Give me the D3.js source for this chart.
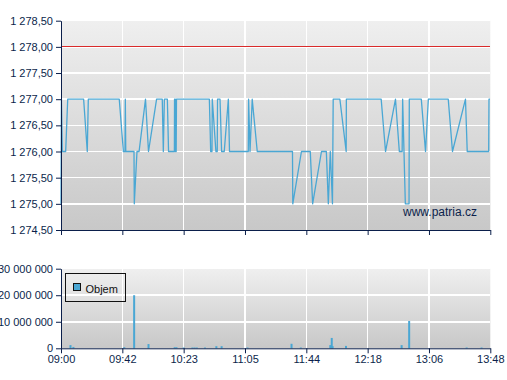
<!DOCTYPE html>
<html>
<head>
<meta charset="utf-8">
<style>
  body { margin: 0; background: #fff; font-family: Arial, "Liberation Sans", sans-serif; }
  svg { display: block; }
  .axis text { font-size: 11px; fill: #0b1f4b; font-family: Arial, "Liberation Sans", sans-serif; }
  .axis path, .axis line { stroke: #0b1f4b; }
  .grid line { stroke: #fff; stroke-width: 1.5; shape-rendering: crispEdges; }
</style>
<title>Patria</title>
</head>
<body>
<script src="https://cdn.jsdelivr.net/npm/d3@7"></script>
<script>

// tick labels on the time axis (ticks sit evenly spaced)
var tickLabels = ["09:00", "09:42", "10:23", "11:05", "11:44", "12:18", "13:06", "13:48"];
var priceTicks = [1274.5, 1275, 1275.5, 1276, 1276.5, 1277, 1277.5, 1278, 1278.5];
var volumeTicks = [0, 10000000, 20000000, 30000000];
var limitPrice = 1278;

// price series
var priceTimes = ["09:00:00","09:00:18","09:00:54","09:03:12","09:04:36","09:15:30","09:18:00","09:18:42",
  "09:39:54","09:42:42","09:43:48","09:44:00","09:44:18","09:49:48","09:50:00","09:51:48","09:53:12",
  "09:57:30","09:59:30","10:04:54","10:08:42","10:09:24","10:10:06","10:12:06","10:12:54","10:16:48",
  "10:16:54","10:17:24","10:17:36","10:18:00","10:18:12","10:40:36","10:41:30","10:42:24","10:42:36",
  "10:45:06","10:46:00","10:46:12","10:47:54","10:49:00","10:50:48","10:53:36","10:54:24","11:07:06",
  "11:07:18","11:08:12","11:09:36","11:12:48","11:35:12","11:35:24","11:40:54","11:46:12","11:47:30",
  "11:52:24","11:55:06","11:56:12","11:57:18","11:58:30","11:58:54","12:02:36","12:06:06","12:06:12",
  "12:28:36","12:32:00","12:39:48","12:42:48","12:45:00","12:45:24","12:47:30","12:50:24","12:50:36",
  "13:00:00","13:03:18","13:05:30","13:19:12","13:22:06","13:31:00","13:32:12","13:46:54","13:47:06",
  "13:47:48"];
var priceValues = [1275,1277,1276,1276,1277,1277,1276,1277,
  1277,1276,1276,1277,1276,1276,1275,1276,1276,
  1277,1276,1277,1277,1276,1277,1277,1276,1276,
  1277,1277,1276,1276,1277,1277,1276,1276,1277,
  1276,1276,1277,1277,1276,1276,1277,1276,1276,
  1277,1276,1277,1276,1276,1275,1276,1276,1275,
  1276,1276,1275,1276,1275,1277,1277,1276,1277,
  1277,1276,1277,1276,1276,1277,1275,1275,1277,
  1277,1276,1277,1277,1276,1277,1276,1276,1277,
  1277];

// volume series
var volumeTimes = ["09:06:30","09:08:30","09:43:18","09:49:54","09:59:30","10:17:00","10:18:12","10:23:00",
  "10:29:00","10:30:30","10:32:00","10:37:36","10:45:24","10:49:00","11:06:36","11:34:36","11:40:30",
  "11:57:18","11:58:06","11:58:36","12:06:00","12:44:36","12:50:30","13:31:48","13:42:00"];
var volumeValues = [1200000,500000,400000,20000000,1600000,400000,400000,300000,
  300000,300000,300000,300000,800000,800000,300000,1700000,300000,
  1200000,3900000,800000,900000,1200000,10300000,300000,300000];

function toMin(s) {
	var p = s.split(":").map(Number);
	return p[0] * 60 + p[1] + (p[2] || 0) / 60;
}

var W = 507, H = 380;
var left = 61, right = 490.3;
var top1 = 20.7, bot1 = 230;
var top2 = 268.7, bot2 = 348.3;

var cz = d3.formatLocale({decimal: ",", thousands: " ", grouping: [3], currency: ["", ""]});
var fmtPrice = cz.format(",.2f");
var fmtVol = cz.format(",.0f");

var svg = d3.select("body").append("svg")
	.attr("width", W)
	.attr("height", H);

var defs = svg.append("defs");
var grad = defs.append("linearGradient")
	.attr("id", "bg")
	.attr("x1", 0).attr("y1", 0).attr("x2", 0).attr("y2", 1);
grad.append("stop").attr("offset", "0%").attr("stop-color", "#efefef");
grad.append("stop").attr("offset", "100%").attr("stop-color", "#c8c8c8");

// x scale: piecewise, each tick label is one equal step
var tickMins = tickLabels.map(toMin);
var x = d3.scaleLinear()
	.domain(tickMins)
	.range(tickMins.map(function(d, i) { return left + i * (right - left) / (tickMins.length - 1); }));

var y1 = d3.scaleLinear().domain([1274.5, 1278.5]).range([bot1, top1]);
var y2 = d3.scaleLinear().domain([0, 30000000]).range([bot2, top2]);

// ---- price panel
svg.append("rect")
	.attr("x", left).attr("y", top1)
	.attr("width", right - left).attr("height", bot1 - top1)
	.attr("fill", "url(#bg)");

svg.append("g").attr("class", "grid").selectAll("line")
	.data(priceTicks.slice(1))
	.enter().append("line")
	.attr("x1", left).attr("x2", right)
	.attr("y1", function(d) { return y1(d); })
	.attr("y2", function(d) { return y1(d); });

svg.append("g").attr("class", "grid").selectAll("line")
	.data(tickMins.slice(1, -1))
	.enter().append("line")
	.attr("x1", function(d) { return x(d); })
	.attr("x2", function(d) { return x(d); })
	.attr("y1", top1).attr("y2", bot1);

svg.append("line")
	.attr("x1", left).attr("x2", right)
	.attr("y1", y1(limitPrice)).attr("y2", y1(limitPrice))
	.attr("stroke", "#d92b2b").attr("stroke-width", 1)
	.attr("shape-rendering", "crispEdges");

svg.append("text")
	.attr("x", 403).attr("y", 216)
	.style("font-size", "12px")
	.style("font-family", "Arial, 'Liberation Sans', sans-serif")
	.attr("fill", "#0b1f4b")
	.text("www.patria.cz");

var line = d3.line()
	.x(function(d) { return x(toMin(d[0])); })
	.y(function(d) { return y1(d[1]); });

svg.append("path")
	.datum(d3.zip(priceTimes, priceValues))
	.attr("d", line)
	.attr("fill", "none")
	.attr("stroke", "#4aa7d4")
	.attr("stroke-width", 1.3)
	.attr("stroke-linejoin", "round");

svg.append("g")
	.attr("class", "axis")
	.attr("transform", "translate(" + left + ",0)")
	.call(d3.axisLeft(y1).tickValues(priceTicks).tickFormat(fmtPrice).tickSize(5).tickPadding(3).tickSizeOuter(0));

svg.append("g")
	.attr("class", "axis")
	.attr("transform", "translate(0," + bot1 + ")")
	.call(d3.axisBottom(x).tickValues(tickMins).tickFormat("").tickSize(5).tickSizeOuter(0));

// ---- volume panel
svg.append("rect")
	.attr("x", left).attr("y", top2)
	.attr("width", right - left).attr("height", bot2 - top2)
	.attr("fill", "url(#bg)");

svg.append("g").attr("class", "grid").selectAll("line")
	.data(volumeTicks.slice(1))
	.enter().append("line")
	.attr("x1", left).attr("x2", right)
	.attr("y1", function(d) { return y2(d); })
	.attr("y2", function(d) { return y2(d); });

svg.append("g").attr("class", "grid").selectAll("line")
	.data(tickMins.slice(1, -1))
	.enter().append("line")
	.attr("x1", function(d) { return x(d); })
	.attr("x2", function(d) { return x(d); })
	.attr("y1", top2).attr("y2", bot2);

svg.append("g").selectAll("rect")
	.data(d3.zip(volumeTimes, volumeValues))
	.enter().append("rect")
	.attr("x", function(d) { return x(toMin(d[0])) - 1; })
	.attr("y", function(d) { return y2(d[1]); })
	.attr("width", 2)
	.attr("height", function(d) { return bot2 - y2(d[1]); })
	.attr("fill", "#4aa7d4");

svg.append("g")
	.attr("class", "axis")
	.attr("transform", "translate(" + left + ",0)")
	.call(d3.axisLeft(y2).tickValues(volumeTicks).tickFormat(fmtVol).tickSize(5).tickPadding(3).tickSizeOuter(0));

svg.append("g")
	.attr("class", "axis")
	.attr("transform", "translate(0," + bot2 + ")")
	.call(d3.axisBottom(x).tickValues(tickMins).tickFormat(function(d, i) { return tickLabels[i]; }).tickSize(5).tickPadding(2).tickSizeOuter(0));

// legend
var lg = svg.append("g").attr("transform", "translate(65.5,273.5)");
lg.append("rect")
	.attr("width", 60).attr("height", 28)
	.attr("fill", "none").attr("stroke", "#111").attr("stroke-width", 1);
lg.append("rect")
	.attr("x", 8).attr("y", 10).attr("width", 7).attr("height", 7)
	.attr("fill", "#4aa7d4").attr("stroke", "#111").attr("stroke-width", 1);
lg.append("text")
	.attr("x", 20).attr("y", 19)
	.style("font-size", "11px")
	.attr("fill", "#111")
	.text("Objem");

</script>
</body>
</html>
